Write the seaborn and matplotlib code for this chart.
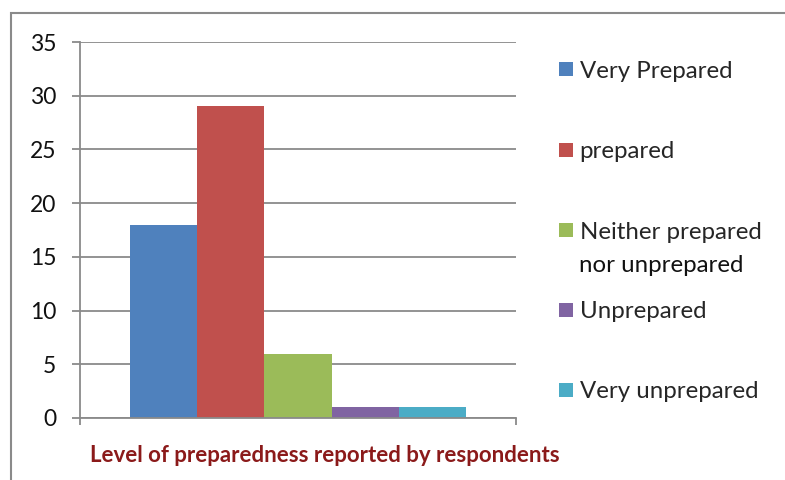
import matplotlib
matplotlib.use("Agg")
import matplotlib.pyplot as plt
import matplotlib.patches as mpatches
import seaborn as sns
import pandas as pd

categories = ["Very Prepared", "prepared", "Neither prepared\nnor unprepared", "Unprepared", "Very unprepared"]
values = [18, 29, 6, 1, 1]
colors = ["#4F81BD", "#C0504D", "#9BBB59", "#8064A2", "#4BACC6"]
yticks = [0, 5, 10, 15, 20, 25, 30, 35]
xlabel = "Level of preparedness reported by respondents"

sns.set_theme(style="white")
plt.rcParams['font.family'] = ['Lato', 'DejaVu Sans']

df = pd.DataFrame({"group": [""] * len(categories), "category": categories, "value": values})

fig = plt.figure(figsize=(7.85, 4.8), dpi=100)
ax = fig.add_axes([80/785, 1 - 418/480, (516 - 80)/785, (418 - 42)/480])

sns.barplot(data=df, x="group", y="value", hue="category", hue_order=categories,
            palette=colors, width=0.77, saturation=1, linewidth=0, ax=ax, legend=False)

ax.set_ylim(0, 35)
ax.set_xlim(-0.5, 0.5)
ax.set_yticks(yticks)
ax.set_yticklabels([str(t) for t in yticks], fontsize=16.5, color="#111111")
ax.set_xticks([-0.5, 0.5])
ax.set_xticklabels(["", ""])
ax.set_xlabel("")
ax.set_ylabel("")
ax.yaxis.grid(True, color="#8a8a8a", linewidth=1.3)
ax.set_axisbelow(True)
for s in ["top", "right"]:
    ax.spines[s].set_visible(False)
for s in ["left", "bottom"]:
    ax.spines[s].set_color("#8a8a8a")
    ax.spines[s].set_linewidth(1.3)
ax.tick_params(axis="y", direction="out", length=6, width=1.3, color="#8a8a8a", pad=11, left=True)
ax.tick_params(axis="x", direction="out", length=5, width=1.3, color="#8a8a8a", bottom=True)

# legend: one entry per category, positioned like the original (first line centres)
leg_fs = 17.3
line_y = [71, 152, 232, 312, 392]
extra_line_gap = 33
for c, lab, y in zip(colors, categories, line_y):
    lines = lab.split("\n")
    h = mpatches.Patch(facecolor=c, edgecolor="none")
    lg = fig.legend([h], [lines[0]], loc="center left", bbox_to_anchor=(559/785, 1 - y/480),
                    frameon=False, fontsize=leg_fs, handlelength=0.58, handleheight=0.58,
                    handletextpad=0.28, borderpad=0, borderaxespad=0)
    for k, extra in enumerate(lines[1:], start=1):
        fig.text(579/785, 1 - (y + k * extra_line_gap)/480, extra, ha="left", va="center",
                 fontsize=leg_fs, color="#111111")

fig.text(325/785, 1 - 455/480, xlabel, ha="center", va="center", fontsize=16,
         fontweight="bold", color="#8B1A1A")

fig.patches.append(mpatches.Rectangle((11/785, -0.02), 1.0, 1 - 13/480 + 0.02,
                                      transform=fig.transFigure, fill=False,
                                      edgecolor="#8a8a8a", linewidth=1.5))

fig.savefig("out.png", dpi=100)
